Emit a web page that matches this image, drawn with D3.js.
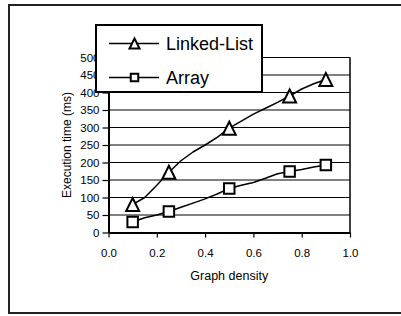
<!DOCTYPE html>
<html>
<head>
<meta charset="utf-8">
<script src="https://cdn.jsdelivr.net/npm/d3@7"></script>
<style>
  html, body { margin: 0; background: #fff; overflow: hidden; }
  svg { display: block; font-family: "Liberation Sans", Arial, sans-serif; }
</style>
</head>
<body>
<svg id="chart" width="401" height="316"></svg>
<script>
'use strict';

// line samples
const densities = [0.1, 0.15, 0.2, 0.25, 0.3, 0.35, 0.4, 0.45, 0.5, 0.55, 0.6, 0.65, 0.7, 0.75, 0.8, 0.85, 0.9];
const linkedListTimes = [80, 100, 135, 172, 205, 230, 250, 272, 298, 318, 338, 355, 372, 390, 410, 425, 437];
const arrayTimes = [30, 42, 50, 60, 72, 84, 96, 110, 126, 135, 143, 155, 168, 174, 180, 187, 193];

// densities where a marker is drawn
const markerDensities = [0.1, 0.25, 0.5, 0.75, 0.9];

const seriesNames = ['Linked-List', 'Array'];
const yTicks = [0, 50, 100, 150, 200, 250, 300, 350, 400, 450, 500];
const xTicks = [0, 0.2, 0.4, 0.6, 0.8, 1.0];
const xTitle = 'Graph density';
const yTitle = 'Execution time (ms)';

const plot = { left: 108.5, right: 350, top: 57.5, bottom: 232.5 };

// triangle whose box is centred on the point, like the spreadsheet markers
const boxTriangle = {
  draw(context, size) {
    const r = Math.sqrt(size) / 2;
    context.moveTo(0, -r);
    context.lineTo(r, r);
    context.lineTo(-r, r);
    context.closePath();
  }
};
const symbolTypes = [boxTriangle, d3.symbolSquare];
const plotSymbolSizes = [13 * 13, 10.5 * 10.5];
const legendSymbolSizes = [10 * 10, 7.5 * 7.5];

const svg = d3.select('#chart');

const x = d3.scaleLinear().domain([0, 1]).range([plot.left, plot.right]);
const y = d3.scaleLinear().domain([0, 500]).range([plot.bottom, plot.top]);

// outer chart frame: left, top and bottom edges only (right edge is off-page)
const frame = svg.append('g').attr('stroke', '#222').attr('stroke-width', 2);
frame.append('line').attr('x1', 8).attr('x2', 401).attr('y1', 5).attr('y2', 5);
frame.append('line').attr('x1', 8).attr('x2', 401).attr('y1', 313).attr('y2', 313);
frame.append('line').attr('x1', 9).attr('x2', 9).attr('y1', 4).attr('y2', 314);

// horizontal gridlines
svg.append('g')
  .selectAll('line')
  .data(yTicks.filter(d => d > 0))
  .join('line')
  .attr('x1', plot.left).attr('x2', plot.right)
  .attr('y1', d => y(d)).attr('y2', d => y(d))
  .attr('stroke', '#000')
  .attr('stroke-width', 1);

// right border of the plot area
svg.append('line')
  .attr('x1', plot.right).attr('x2', plot.right)
  .attr('y1', plot.top).attr('y2', plot.bottom)
  .attr('stroke', '#000')
  .attr('stroke-width', 1.5);

const styleAxis = (g) => {
  g.select('.domain').attr('stroke', '#000').attr('stroke-width', 2);
  g.selectAll('.tick line').attr('stroke', '#000').attr('stroke-width', 1.2);
  g.selectAll('.tick text')
    .attr('fill', '#000')
    .style('font-size', '11.5px')
    .style('font-family', '"Liberation Sans", Arial, sans-serif');
};

svg.append('g')
  .attr('transform', `translate(${plot.left},0)`)
  .call(d3.axisLeft(y).tickValues(yTicks).tickFormat(d3.format('d')).tickSize(6).tickSizeOuter(0).tickPadding(3))
  .call(styleAxis);

svg.append('g')
  .attr('transform', `translate(0,${plot.bottom})`)
  .call(d3.axisBottom(x).tickValues(xTicks).tickFormat(d3.format('.1f')).tickSize(5).tickSizeOuter(0).tickPadding(11))
  .call(styleAxis);

// axis titles
svg.append('text')
  .attr('x', (plot.left + plot.right) / 2)
  .attr('y', 279.5)
  .attr('text-anchor', 'middle')
  .style('font-size', '12.5px')
  .text(xTitle);

svg.append('clipPath').attr('id', 'ytitle-clip')
  .append('rect').attr('x', 0).attr('y', 87).attr('width', 100).attr('height', 200);

svg.append('g')
  .attr('clip-path', 'url(#ytitle-clip)')
  .append('text')
  .attr('transform', `translate(71,${(plot.top + plot.bottom) / 2}) rotate(-90)`)
  .attr('text-anchor', 'middle')
  .style('font-size', '12px')
  .text(yTitle);

// series
const series = [linkedListTimes, arrayTimes];
const line = d3.line()
  .x((d, i) => x(densities[i]))
  .y(d => y(d));

series.forEach((values, s) => {
  svg.append('path')
    .datum(values)
    .attr('d', line)
    .attr('fill', 'none')
    .attr('stroke', '#000')
    .attr('stroke-width', 1.5)
    .attr('stroke-linejoin', 'round');

  const points = markerDensities.map(m => ({ d: m, v: values[densities.indexOf(m)] }));
  svg.append('g')
    .selectAll('path')
    .data(points)
    .join('path')
    .attr('transform', p => `translate(${x(p.d)},${y(p.v)})`)
    .attr('d', d3.symbol().type(symbolTypes[s]).size(plotSymbolSizes[s]))
    .attr('fill', '#fff')
    .attr('stroke', '#000')
    .attr('stroke-width', 2);
});

// legend
const legend = svg.append('g');
legend.append('rect')
  .attr('x', 96).attr('y', 25)
  .attr('width', 166).attr('height', 67)
  .attr('fill', '#fff')
  .attr('stroke', '#000')
  .attr('stroke-width', 2);

const legendRowY = [43.5, 77.5];
seriesNames.forEach((name, s) => {
  const row = legend.append('g').attr('transform', `translate(0,${legendRowY[s]})`);
  row.append('line')
    .attr('x1', 109).attr('x2', 159)
    .attr('stroke', '#000')
    .attr('stroke-width', 1.5);
  row.append('path')
    .attr('transform', 'translate(134.5,0)')
    .attr('d', d3.symbol().type(symbolTypes[s]).size(legendSymbolSizes[s]))
    .attr('fill', '#fff')
    .attr('stroke', '#000')
    .attr('stroke-width', 2);
  row.append('text')
    .attr('x', 166)
    .attr('y', 6.5)
    .style('font-size', '18px')
    .text(name);
});
</script>
</body>
</html>
